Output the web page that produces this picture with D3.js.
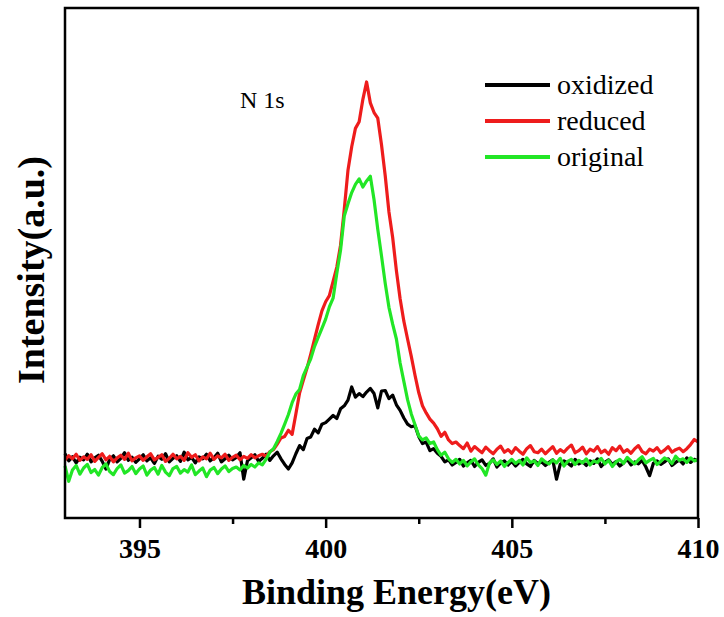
<!DOCTYPE html>
<html>
<head>
<meta charset="utf-8">
<script src="https://cdn.jsdelivr.net/npm/d3@7"></script>
<style>
  body { margin: 0; background: #fff; }
  text { font-family: "Liberation Serif", "Times New Roman", serif; }
</style>
</head>
<body>
<div id="my_dataviz"></div>
<script>
// N 1s spectra, 0.1 eV step from 393 to 410 eV
const eStart = 393, eStep = 0.1;

const oxidized = [
  12.6, 11.2, 12.0, 10.8, 11.9, 11.4, 12.5, 11.0, 11.8, 12.3,
  11.1, 9.6, 11.5, 12.2, 11.0, 11.7, 12.8, 11.3, 11.9, 10.9,
  11.6, 12.4, 11.2, 11.8, 10.7, 12.1, 11.5, 12.6, 11.0, 11.7,
  12.2, 11.1, 12.9, 11.4, 11.9, 10.8, 12.0, 11.6, 12.5, 11.2,
  11.8, 12.7, 11.0, 11.6, 12.3, 11.4, 11.9, 12.8, 7.6, 11.2,
  11.8, 12.4, 11.1, 11.7, 12.5, 11.3, 12.2, 12.9, 11.6, 10.5,
  9.6, 10.8, 12.6, 14.2, 13.4, 15.6, 15.9, 17.4, 16.7, 18.4,
  18.7, 19.4, 20.1, 19.5, 21.4, 22.0, 23.1, 25.7, 23.7, 24.4,
  23.8, 24.7, 25.4, 24.4, 21.6, 24.9, 25.0, 23.4, 24.1, 22.2,
  21.1, 19.6, 18.4, 17.9, 18.1, 16.0, 14.6, 14.9, 13.2, 13.6,
  12.7, 12.1, 11.0, 11.4, 10.4, 10.9, 11.5, 10.2, 10.8, 11.3,
  10.1, 10.9, 11.4, 10.3, 10.7, 11.6, 10.0, 10.8, 11.2, 10.4,
  11.1, 10.2, 10.9, 11.5, 10.6, 10.1, 11.3, 10.7, 11.0, 10.3,
  10.9, 11.4, 7.6, 10.5, 11.2, 10.8, 10.2, 11.5, 10.6, 11.0,
  10.3, 11.2, 10.7, 11.6, 10.1, 10.9, 11.4, 10.5, 11.1, 10.2,
  10.8, 11.5, 10.4, 11.0, 10.6, 11.3, 10.0, 8.3, 10.7, 11.2,
  10.5, 11.0, 11.6, 10.3, 10.9, 11.4, 10.6, 11.8, 10.9, 11.5,
  11.2
];

const reduced = [
  11.4, 12.2, 11.6, 12.5, 11.3, 12.0, 11.5, 12.4, 11.1, 11.9,
  12.6, 11.4, 12.1, 11.0, 11.8, 12.3, 11.5, 12.7, 11.2, 11.8,
  12.2, 11.3, 12.0, 12.6, 11.4, 11.9, 12.4, 11.1, 11.7, 12.5,
  11.6, 12.1, 11.3, 12.8, 11.9, 12.4, 11.2, 12.0, 11.6, 12.7,
  11.5, 12.2, 11.8, 12.5, 11.3, 11.9, 12.3, 11.4, 12.1, 11.7,
  12.4, 11.8, 12.2, 12.5, 12.1, 13.0, 13.4, 14.5, 15.7, 16.0,
  17.2, 16.4, 20.4, 24.5, 27.0, 29.4, 32.1, 35.0, 37.9, 40.6,
  42.4, 43.6, 46.4, 49.2, 53.5, 60.5, 68.2, 72.8, 76.4, 77.7,
  82.1, 85.5, 81.4, 79.5, 78.4, 73.2, 67.1, 60.0, 55.0, 48.5,
  43.0, 38.6, 35.1, 31.7, 28.0, 24.6, 22.0, 20.6, 19.4, 18.6,
  17.5, 16.0, 16.8, 15.3, 14.6, 14.9, 14.2, 13.6, 14.7, 13.1,
  14.0, 13.4, 12.8, 13.9, 13.2, 12.6, 13.5, 14.1, 12.9, 13.4,
  12.7, 13.8, 13.1, 12.5, 13.6, 14.2, 13.0, 12.8, 13.5, 12.6,
  13.3, 14.0, 12.7, 13.4, 12.9, 13.7, 14.3, 12.8, 13.2, 13.9,
  12.6, 13.5, 13.1, 14.0, 12.8, 13.3, 12.5, 13.8, 13.2, 14.1,
  12.9, 13.4, 12.7, 13.6, 14.2, 13.0, 12.6, 13.5, 13.1, 13.8,
  12.8, 13.3, 14.0, 12.9, 13.4, 13.7, 13.0, 13.6, 14.4, 15.4,
  14.9
];

const original = [
  10.2, 7.2, 9.4, 10.3, 8.6, 9.8, 10.5, 8.9, 9.5, 8.4,
  9.9, 10.6, 9.1, 8.5, 9.7, 10.4, 8.8, 9.3, 10.1, 8.7,
  9.6, 10.2, 8.4, 9.4, 9.9, 8.6, 10.3, 9.0, 8.3, 9.7,
  10.1, 8.8, 9.5, 9.0, 10.4, 8.5, 9.2, 9.8, 8.1, 9.4,
  9.9, 8.7, 9.6, 10.2, 9.1, 9.7, 10.0, 9.4, 10.3, 9.8,
  10.5, 10.0, 10.8, 10.4, 11.5, 12.9, 13.6, 15.0, 16.6, 18.4,
  20.3, 22.6, 24.3, 25.2, 27.9, 29.6, 31.2, 33.6, 35.4, 37.2,
  39.0, 41.4, 43.1, 48.0, 52.5, 59.2, 61.6, 63.8, 65.4, 66.5,
  64.9, 66.1, 67.0, 62.4, 56.6, 51.4, 46.0, 41.3, 38.0, 35.1,
  30.4, 26.8, 23.2, 20.4, 18.3, 16.1, 15.3, 15.7, 14.6, 14.9,
  13.4, 12.3, 12.9, 11.6, 10.9, 11.5, 10.6, 11.3, 10.2, 11.0,
  11.6, 10.4, 9.7, 8.4, 10.8, 11.4, 10.5, 11.2, 10.1, 10.9,
  11.5, 10.7, 11.3, 10.4, 11.8, 10.9, 11.2, 10.3, 11.6, 11.0,
  10.6, 11.4, 10.8, 11.7, 10.2, 11.1, 11.5, 10.5, 11.3, 10.8,
  11.6, 10.4, 11.2, 10.9, 11.7, 10.6, 11.3, 10.1, 11.0, 11.5,
  10.7, 11.9, 11.2, 10.6, 11.4, 12.0, 10.8, 11.3, 11.7, 10.5,
  11.1, 11.8, 11.4, 10.7, 12.1, 11.3, 11.6, 10.9, 11.8, 11.2,
  11.4
];

const seriesNames = ["oxidized", "reduced", "original"];
const seriesColors = ["#000000", "#ee1c1c", "#22e626"];
const xTicks = [395, 400, 405, 410];
const xMinorTicks = [397.5, 402.5, 407.5];

const W = 724, H = 617;
const margin = {top: 8, right: 26, bottom: 99, left: 65},
    width = W - margin.left - margin.right,
    height = H - margin.top - margin.bottom;

const svg = d3.select("#my_dataviz")
  .append("svg")
    .attr("width", W)
    .attr("height", H)
    .attr("font-family", "Liberation Serif")
  .append("g")
    .attr("transform", `translate(${margin.left},${margin.top})`);

const x = d3.scaleLinear()
  .domain([393, 410])
  .range([0, width]);

const y = d3.scaleLinear()
  .domain([0, 100])
  .range([height, 0]);

// lines
const allSeries = [oxidized, reduced, original];
const line = d3.line()
  .x((d, i) => x(eStart + i * eStep))
  .y(d => y(d));

svg.append("g")
  .selectAll("path")
  .data(allSeries)
  .join("path")
    .attr("d", d => line(d))
    .attr("fill", "none")
    .attr("stroke", (d, i) => seriesColors[i])
    .attr("stroke-width", 3.2)
    .attr("stroke-linejoin", "round");

// frame
svg.append("rect")
  .attr("x", 0).attr("y", 0)
  .attr("width", width).attr("height", height)
  .attr("fill", "none")
  .attr("stroke", "#000")
  .attr("stroke-width", 2.5);

// bottom axis
const xAxis = svg.append("g")
  .attr("transform", `translate(0, ${height})`)
  .call(d3.axisBottom(x).tickValues(xTicks).tickFormat(d3.format("d")).tickSize(10).tickPadding(10));
xAxis.select(".domain").remove();
xAxis.selectAll(".tick line").attr("stroke-width", 2.5);
xAxis.selectAll(".tick text")
  .style("font-family", "Liberation Serif")
  .style("font-size", "28px")
  .style("font-weight", "bold")
  .attr("fill", "#000");

svg.append("g")
  .attr("transform", `translate(0, ${height})`)
  .call(d3.axisBottom(x).tickValues(xMinorTicks).tickFormat("").tickSize(6))
  .call(g => g.select(".domain").remove())
  .selectAll(".tick line").attr("stroke-width", 2.5);

// axis labels
svg.append("text")
  .attr("text-anchor", "middle")
  .attr("x", x(401.9))
  .attr("y", height + 86)
  .style("font-size", "36px")
  .style("font-weight", "bold")
  .text("Binding Energy(eV)");

svg.append("text")
  .attr("text-anchor", "middle")
  .attr("transform", "rotate(-90)")
  .attr("x", -(270 - margin.top))
  .attr("y", -21)
  .style("font-size", "38px")
  .style("font-weight", "bold")
  .text("Intensity(a.u.)");

svg.append("text")
  .attr("x", x(397.7))
  .attr("y", 100)
  .style("font-size", "24px")
  .text("N 1s");

// legend
const legend = svg.append("g")
  .selectAll("g")
  .data(seriesNames)
  .join("g")
    .attr("transform", (d, i) => `translate(${485 - margin.left}, ${77 + i * 36})`);
legend.append("line")
  .attr("x1", 0).attr("x2", 65)
  .attr("stroke", (d, i) => seriesColors[i])
  .attr("stroke-width", 4);
legend.append("text")
  .attr("x", 72)
  .attr("y", 9)
  .style("font-size", "28px")
  .text(d => d);
</script>
</body>
</html>
